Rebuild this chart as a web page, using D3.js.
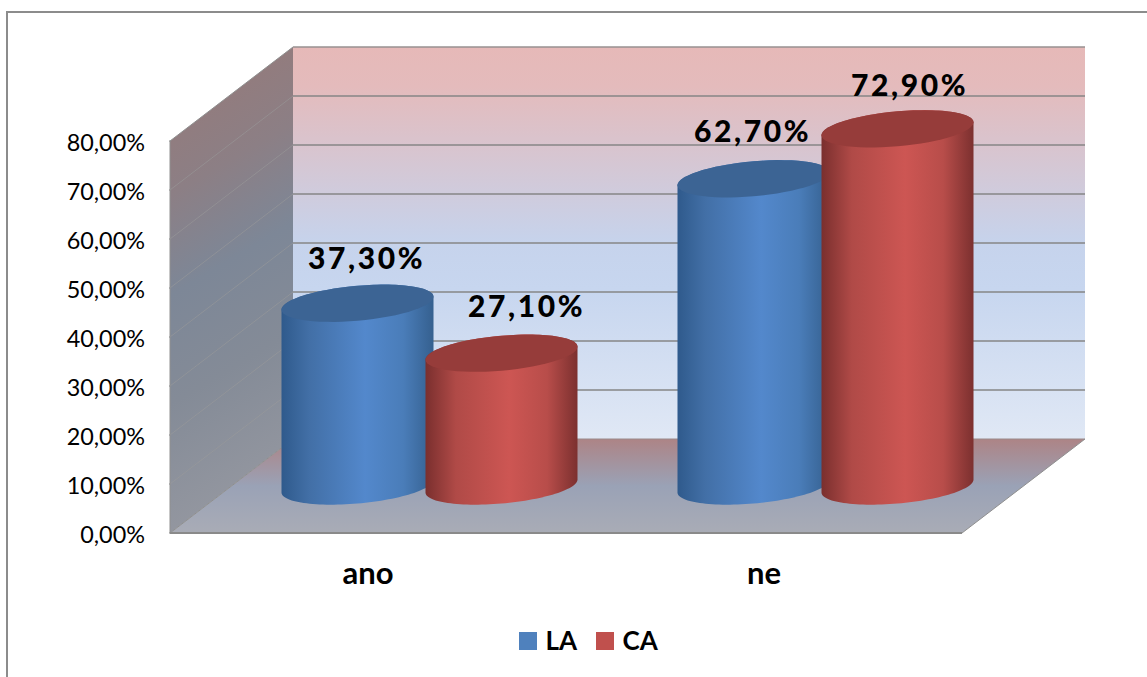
<!DOCTYPE html>
<html><head><meta charset="utf-8">
<script src="https://cdn.jsdelivr.net/npm/d3@7"></script>
<style>
html,body{margin:0;padding:0;background:#fff;overflow:hidden}
svg{display:block}
text{fill:#000}
</style></head><body><svg id="c" width="1147" height="677"></svg>
<script>
const categories=["ano","ne"];
const seriesNames=["LA","CA"];
const laValues=[37.3,62.7];
const caValues=[27.1,72.9];
const yTicks=[0,10,20,30,40,50,60,70,80];
const seriesColors=["#4f81bd","#c0504d"];

const svg=d3.select("#c");
const defs=svg.append("defs");
function grad(id,stops,x1=0,y1=0,x2=0,y2=1){
  const g=defs.append("linearGradient").attr("id",id).attr("x1",x1).attr("y1",y1).attr("x2",x2).attr("y2",y2);
  stops.forEach(s=>g.append("stop").attr("offset",s[0]).attr("stop-color",s[1]));
}
grad("wall",[[0,"#e6b9b8"],[.1,"#e4bbbc"],[.5,"#c6d3ec"],[.62,"#c7d6ef"],[1,"#e0e8f5"]]);
grad("side",[[0,"#987977"],[.3,"#8c7f85"],[.5,"#7d8797"],[.72,"#848b97"],[1,"#9497a0"]],0,0,.15,1);
grad("floor",[[0,"#ad8486"],[.5,"#9aa2b6"],[1,"#a9acb6"]]);
grad("blueSide",[[0,"#2f5a8c"],[.18,"#426fa6"],[.55,"#5388cc"],[.8,"#4a7db9"],[1,"#35608f"]],0,0,1,0);
grad("redSide",[[0,"#7a2f2e"],[.2,"#b04a47"],[.55,"#cd5653"],[.8,"#b84d4a"],[1,"#7c302f"]],0,0,1,0);

// plot geometry
const frontLeft=170, plotW=792, depthX=123, depthY=94;
const y=d3.scaleLinear().domain([0,80]).range([533,141]);
const x0=d3.scaleBand().domain(categories).range([frontLeft,frontLeft+plotW]);
const x1=d3.scalePoint().domain(seriesNames).range([-72,72]);
const midX=depthX/2, midY=depthY/2;
const rx=76, ry=17.5, shear=6.5;

const line=d3.line();
// frame: only the top and left edges fall inside the picture
svg.append("path").attr("d",line([[7,677],[7,12],[1147,12]])).attr("fill","none")
  .attr("stroke","#8c8c8c").attr("stroke-width",2);

const yTop=y(80), y0=y(0), fr=frontLeft+plotW;
// back wall
svg.append("path").attr("d",line([[frontLeft+depthX,yTop-depthY],[fr+depthX,yTop-depthY],[fr+depthX,y0-depthY],[frontLeft+depthX,y0-depthY]])+"Z").attr("fill","url(#wall)");
// floor
svg.append("path").attr("d",line([[frontLeft,y0],[frontLeft+depthX,y0-depthY],[fr+depthX,y0-depthY],[fr,y0]])+"Z").attr("fill","url(#floor)");
// side wall
svg.append("path").attr("d",line([[frontLeft,yTop],[frontLeft+depthX,yTop-depthY],[frontLeft+depthX,y0-depthY],[frontLeft,y0]])+"Z").attr("fill","url(#side)");
// gridlines
yTicks.forEach(t=>{
  const py=y(t);
  if(t>0) svg.append("line").attr("x1",frontLeft+depthX).attr("x2",fr+depthX).attr("y1",py-depthY).attr("y2",py-depthY)
    .attr("stroke",t==80?"#979090":"#868686").attr("stroke-width",1.5);
  svg.append("path").attr("d",line([[frontLeft,py],[frontLeft+depthX,py-depthY]])).attr("fill","none")
    .attr("stroke",(t==0||t==80)?"#8f8f8f":"#9a9a9a").attr("stroke-opacity",(t==0||t==80)?1:.55).attr("stroke-width",1);
  svg.append("line").attr("x1",frontLeft-1).attr("x2",frontLeft).attr("y1",py).attr("y2",py).attr("stroke","#868686");
  svg.append("text").attr("x",145).attr("y",py+10).attr("text-anchor","end")
    .style("font","23.4px Lato").text(d3.format(".2f")(t).replace(".",",")+"%");
});
svg.append("line").attr("x1",frontLeft).attr("x2",frontLeft).attr("y1",yTop).attr("y2",y0).attr("stroke","#8f8f8f");
// floor edges
svg.append("line").attr("x1",frontLeft+depthX).attr("x2",fr+depthX).attr("y1",y0-depthY).attr("y2",y0-depthY).attr("stroke","#9a8a8a").attr("stroke-width",1);
svg.append("path").attr("d",line([[fr,y0],[fr+depthX,y0-depthY]])).attr("fill","none").attr("stroke","#8f8f8f");
svg.append("line").attr("x1",frontLeft).attr("x2",fr).attr("y1",y0).attr("y2",y0).attr("stroke","#8a8a8a").attr("stroke-width",2);

// cylinders
function ell(cx,cy,from,to){
  return d3.range(0,61).map(i=>{const t=from+(to-from)*i/60;
    return [cx+rx*Math.cos(t),cy+ry*Math.sin(t)-shear*Math.cos(t)];});
}
const tops=[laValues,caValues];
categories.forEach((c,ci)=>{
  seriesNames.forEach((s,si)=>{
    const v=tops[si][ci];
    const cx=x0(c)+x0.bandwidth()/2+midX+x1(s);
    const b=y(0)-midY, t=y(v)-midY;
    const g=svg.append("g");
    const lower=ell(cx,b,0,Math.PI);
    const upper=ell(cx,t,Math.PI,2*Math.PI);
    g.append("path").attr("d",line(lower.concat(upper))+"Z").attr("fill",si?"url(#redSide)":"url(#blueSide)");
    g.append("path").attr("d",line(ell(cx,t,0,2*Math.PI))+"Z").attr("fill",si?"#963c3a":"#3c6494");
  });
});
// data labels (hand placed in the original, so each series carries a nudge)
const labelNudgeX=[[9,-1],[25,12]];
const labelLift=[[34,37],[36,33]];
categories.forEach((c,ci)=>{
  seriesNames.forEach((s,si)=>{
    const v=tops[si][ci];
    const cx=x0(c)+x0.bandwidth()/2+midX+x1(s);
    svg.append("text").attr("x",cx+labelNudgeX[si][ci]).attr("y",y(v)-midY-labelLift[si][ci]).attr("text-anchor","middle")
      .style("font","900 30px Lato").style("letter-spacing","2.6px")
      .text(d3.format(".2f")(v).replace(".",",")+"%");
  });
});
// category labels
categories.forEach(c=>{
  svg.append("text").attr("x",x0(c)+x0.bandwidth()/2).attr("y",584).attr("text-anchor","middle")
    .style("font","bold 31px Lato").text(c);
});
// legend
const legX=d3.scalePoint().domain(seriesNames).range([519,596]);
seriesNames.forEach((s,i)=>{
  svg.append("rect").attr("x",legX(s)).attr("y",632).attr("width",18).attr("height",18).attr("fill",seriesColors[i]);
  svg.append("text").attr("x",legX(s)+26.5).attr("y",650).style("font","bold 26px Lato").text(s);
});
</script></body></html>
